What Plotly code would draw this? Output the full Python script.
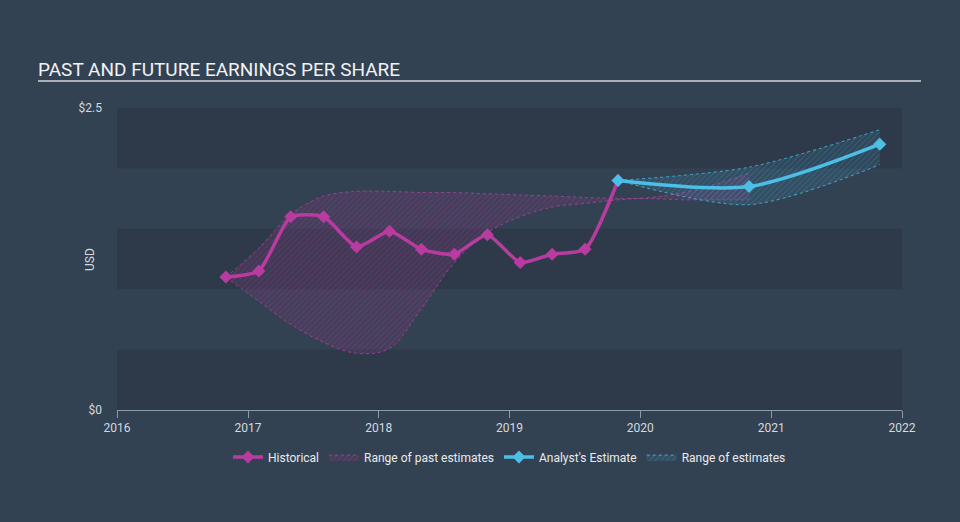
import plotly.graph_objects as go

# historical EPS (quarterly)
hist_dates = ["2016-10-31", "2017-01-31", "2017-04-30", "2017-07-31", "2017-10-31",
              "2018-01-31", "2018-04-30", "2018-07-31", "2018-10-31", "2019-01-31",
              "2019-04-30", "2019-07-31", "2019-10-31"]
hist_eps = [1.10, 1.15, 1.60, 1.60, 1.35, 1.48, 1.33, 1.29, 1.45, 1.22, 1.29, 1.33, 1.90]

# range of past estimates
past_dates = ["2016-10-31", "2017-01-31", "2017-04-30", "2017-07-31", "2017-10-31",
              "2018-01-31", "2018-04-30", "2018-07-31", "2018-10-31", "2019-01-31",
              "2019-04-30", "2019-07-31", "2019-10-31", "2020-01-31", "2020-04-30",
              "2020-07-31", "2020-10-31"]
past_high = [1.10, 1.34, 1.62, 1.77, 1.81, 1.81, 1.80, 1.80, 1.79, 1.78,
             1.77, 1.76, 1.75, 1.75, 1.74, 1.74, 1.74]
past_low = [1.10, 0.90, 0.71, 0.56, 0.47, 0.51, 0.84, 1.22, 1.47, 1.60,
            1.68, 1.71, 1.74, 1.76, 1.80, 1.87, 1.96]

# analyst estimates
est_dates = ["2019-10-31", "2020-10-31", "2021-10-31"]
est_eps = [1.90, 1.85, 2.20]
est_high = [1.90, 2.01, 2.32]
est_low = [1.90, 1.70, 2.03]

MAG = "#b83ca0"
CYAN = "#4cbfe6"
BG = "#334252"

fig = go.Figure()

# past range: lower edge, then upper edge filled to it
fig.add_trace(go.Scatter(
    x=past_dates, y=past_low, mode="lines",
    line=dict(color=MAG, width=0.8, dash="dot", shape="spline", smoothing=1.0),
    showlegend=False, hoverinfo="skip"))
fig.add_trace(go.Scatter(
    x=past_dates, y=past_high, mode="lines", fill="tonexty",
    line=dict(color=MAG, width=0.8, dash="dot", shape="spline", smoothing=0.9),
    fillcolor="rgba(184,60,160,0.22)",
    fillpattern=dict(shape="/", fgcolor="rgba(200,70,170,0.6)", bgcolor="rgba(150,50,140,0.18)",
                     size=4, solidity=0.2),
    name="Range of past estimates", legendrank=2))

# future range
fig.add_trace(go.Scatter(
    x=est_dates, y=est_low, mode="lines",
    line=dict(color=CYAN, width=0.8, dash="dot", shape="spline", smoothing=0.8),
    showlegend=False, hoverinfo="skip"))
fig.add_trace(go.Scatter(
    x=est_dates, y=est_high, mode="lines", fill="tonexty",
    line=dict(color=CYAN, width=0.8, dash="dot", shape="spline", smoothing=0.8),
    fillcolor="rgba(76,191,230,0.18)",
    fillpattern=dict(shape="/", fgcolor="rgba(76,191,230,0.6)", bgcolor="rgba(60,150,190,0.15)",
                     size=4, solidity=0.2),
    name="Range of estimates", legendrank=4))

fig.add_trace(go.Scatter(
    x=hist_dates, y=hist_eps, mode="lines+markers", name="Historical",
    line=dict(color=MAG, width=3.5, shape="spline", smoothing=0.55),
    marker=dict(symbol="diamond", size=10, color=MAG), legendrank=1))

fig.add_trace(go.Scatter(
    x=est_dates, y=est_eps, mode="lines+markers", name="Analyst's Estimate",
    line=dict(color=CYAN, width=3.5, shape="spline", smoothing=0.8),
    marker=dict(symbol="diamond", size=10, color=CYAN), legendrank=3))

# darker horizontal bands
for lo in [0, 1.0, 2.0]:
    fig.add_shape(type="rect", xref="paper", yref="y", x0=0, x1=1, y0=lo, y1=lo + 0.5,
                  fillcolor="#2e3a4a", line_width=0, layer="below")

# title underline
fig.add_shape(type="line", xref="paper", yref="paper", x0=-0.1006, x1=1.0242,
              y0=1.0894, y1=1.0894, line=dict(color="#a9b0b8", width=2))

# y axis label
fig.add_annotation(text="USD", xref="paper", yref="paper", x=-0.0459, y=0.5,
                   textangle=-90, showarrow=False, font=dict(size=12, color="#d5d9de"))

fig.update_layout(
    width=960, height=522,
    paper_bgcolor=BG, plot_bgcolor=BG,
    margin=dict(l=117, r=58, t=108, b=112),
    font=dict(family="Roboto", color="#d5d9de", size=12),
    title=dict(text="PAST AND FUTURE EARNINGS PER SHARE", x=38 / 960, xanchor="left",
               y=1 - 69 / 522, yanchor="middle",
               font=dict(family="Roboto", size=19, color="#f0f2f4")),
    showlegend=True,
    legend=dict(orientation="h", x=0.5, xanchor="center", y=-0.156, yanchor="middle",
                font=dict(size=12, color="#e8eaed"), bgcolor="rgba(0,0,0,0)",
                itemwidth=30, traceorder="normal"),
    hovermode="x",
)

fig.update_xaxes(
    type="date", range=["2016-01-01", "2022-01-01"], showgrid=False, zeroline=False,
    showline=True, linecolor="#8d99a6", linewidth=1,
    ticks="outside", ticklen=7, tickcolor="#8d99a6",
    dtick="M12", tickformat="%Y", tickfont=dict(size=12, color="#d5d9de"),
)
fig.update_yaxes(
    range=[0, 2.5], tickvals=[0, 2.5], ticktext=["$0", "$2.5"], showgrid=False,
    zeroline=False, showline=False, ticks="", ticklabelstandoff=14,
    tickfont=dict(size=12, color="#d5d9de"),
)

fig.write_html("out.html", config={"displayModeBar": False},
               post_script="document.body.style.margin='0';")
